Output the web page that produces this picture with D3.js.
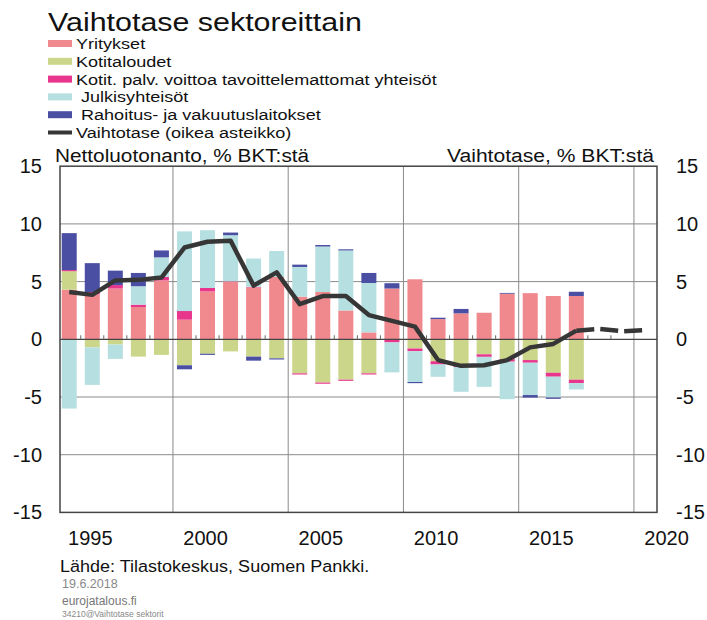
<!DOCTYPE html>
<html><head><meta charset="utf-8">
<script src="https://cdn.jsdelivr.net/npm/d3@7/dist/d3.min.js"></script>
<style>
body{margin:0;background:#fff;}
text{font-family:"Liberation Sans",Arial,sans-serif;}
</style></head>
<body><svg id="c" width="707" height="620"></svg>
<script>
const years = d3.range(1994, 2017);
const seriesNames = ["Yritykset","Kotitaloudet","Kotit. palv. voittoa tavoittelemattomat yhteisöt","Julkisyhteisöt","Rahoitus- ja vakuutuslaitokset"];
const yritykset    = [4.3,3.9,4.4,2.8,5.1,1.7,4.15,4.97,4.5,5.4,3.7,4.1,2.5,0.6,4.4,5.2,1.75,2.25,2.3,3.95,4.0,3.75,3.75];
const kotitaloudet = [1.6,-0.7,-0.45,-1.5,-1.35,-2.25,-1.25,-1.05,-1.5,-1.65,-2.95,-3.75,-3.5,-2.95,0,-0.8,-1.9,-2.3,-1.3,-1.72,-1.8,-2.9,-3.5];
const kotitPalv    = [0.1,0.2,0.3,0.2,0.3,0.75,0.3,0.05,0.05,0,-0.1,-0.1,-0.1,-0.1,-0.27,-0.23,-0.28,-0.1,-0.22,-0.22,-0.23,-0.34,-0.3];
const julkis       = [-6.0,-3.25,-1.25,1.6,1.7,6.9,5.0,4.0,2.45,2.25,2.57,3.94,5.2,4.28,-2.6,-2.67,-1.07,-2.15,-2.6,-3.25,-2.8,-1.8,-0.55];
const rahoitus     = [3.2,2.5,1.25,1.15,0.6,-0.35,-0.1,0.23,-0.35,-0.1,0.2,0.13,0.1,0.87,0.46,-0.1,0.12,0.38,0,0.07,-0.22,-0.12,0.37];
const vaihtotase   = [4.1,3.85,5.1,5.15,5.35,7.95,8.45,8.55,4.65,5.8,3.05,3.75,3.75,2.1,1.6,1.1,-1.8,-2.3,-2.25,-1.8,-0.7,-0.4,0.75];
const ennusteYears = [2016,2017,2018,2019];
const ennuste      = [0.75,0.9,0.7,0.8];
const yTicks = [-15,-10,-5,0,5,10,15];
const xLabels = [1995,2000,2005,2010,2015,2020];
const vGrid = [1998.5,2003.5,2008.5,2013.5,2018.5];
const colors = ["#F0898E","#CCD68A","#E8368D","#B5DFE1","#4A4FA3"];

const svg = d3.select("#c");
const x = d3.scaleLinear().domain([1993.6,2019.5]).range([60,657]);
const y = d3.scaleLinear().domain([-15,15]).range([512.4,166.2]);

const rows = years.map((yr,i)=>({year:yr,s0:yritykset[i],s1:kotitaloudet[i],s2:kotitPalv[i],s3:julkis[i],s4:rahoitus[i]}));
const stack = d3.stack().keys(["s0","s1","s2","s3","s4"]).offset(d3.stackOffsetDiverging);
const layers = stack(rows);

// stretched text helper
function stext(parent, tx, ty, sx, size, str, anchor, fill){
  return parent.append("text").attr("transform",`translate(${tx},${ty}) scale(${sx},1)`)
    .attr("font-size",size).attr("fill",fill||"#111").attr("text-anchor",anchor||"start").text(str);
}

// grid
const g = svg.append("g");
g.selectAll(".hg").data(yTicks.filter(t=>t!==0 && Math.abs(t)!==15)).join("line")
  .attr("x1",x.range()[0]).attr("x2",x.range()[1]).attr("y1",d=>y(d)).attr("y2",d=>y(d))
  .attr("stroke","#8a8a8a").attr("stroke-width",1);
g.selectAll(".vg").data(vGrid).join("line")
  .attr("x1",d=>x(d)).attr("x2",d=>x(d)).attr("y1",y(15)).attr("y2",y(-15))
  .attr("stroke","#8a8a8a").attr("stroke-width",1);

// bars
const bw = 15;
svg.append("g").selectAll("g").data(layers).join("g").attr("fill",(d,i)=>colors[i])
  .selectAll("rect").data(d=>d).join("rect")
  .attr("x",d=>x(d.data.year)-bw/2).attr("width",bw)
  .attr("y",d=>y(Math.max(d[0],d[1]))).attr("height",d=>Math.abs(y(d[0])-y(d[1])));

// zero line and minor ticks
svg.append("line").attr("x1",x.range()[0]).attr("x2",x.range()[1]).attr("y1",y(0)).attr("y2",y(0))
  .attr("stroke","#444").attr("stroke-width",1.2);
const minor = d3.range(1994.5,2019.5,1).filter(v=>!vGrid.includes(v));
svg.append("g").selectAll("line").data(minor).join("line")
  .attr("x1",d=>x(d)).attr("x2",d=>x(d)).attr("y1",y(0)).attr("y2",y(0)-4)
  .attr("stroke","#666").attr("stroke-width",1);

// frame
svg.append("rect").attr("x",x.range()[0]).attr("y",y(15)).attr("width",x.range()[1]-x.range()[0])
  .attr("height",y(-15)-y(15)).attr("fill","none").attr("stroke","#444").attr("stroke-width",1.5);

// line
const line = d3.line().x(d=>x(d[0])).y(d=>y(d[1]));
svg.append("path").datum(years.map((yr,i)=>[yr,vaihtotase[i]])).attr("d",line)
  .attr("fill","none").attr("stroke","#363636").attr("stroke-width",4.5).attr("stroke-linejoin","round");
svg.append("path").datum(ennusteYears.map((yr,i)=>[yr,ennuste[i]])).attr("d",line)
  .attr("fill","none").attr("stroke","#363636").attr("stroke-width",4.5).attr("stroke-dasharray","18,6");

// axes labels
const yl = svg.append("g").attr("font-size",20).attr("fill","#111");
yl.selectAll(".l").data(yTicks).join("text").attr("x",42).attr("y",d=>y(d)+7).attr("text-anchor","end").text(d=>d);
yl.selectAll(".r").data(yTicks).join("text").attr("x",676).attr("y",d=>y(d)+7).attr("text-anchor","start").text(d=>d);
svg.append("g").attr("font-size",20).attr("fill","#111").selectAll("text").data(xLabels).join("text")
  .attr("x",d=>x(d)-2).attr("y",545).attr("text-anchor","middle").text(d=>d);

// headers
stext(svg,55,162,1.094,19,"Nettoluotonanto, % BKT:stä");
stext(svg,654,162,1.11,19,"Vaihtotase, % BKT:stä","end");

// title
stext(svg,48,31,1.17,26,"Vaihtotase sektoreittain");

// legend
const leg = svg.append("g");
const legY = [43.5,61.3,79.1,96.9,114.7];
seriesNames.forEach((n,i)=>{
  leg.append("rect").attr("x",48).attr("y",legY[i]-3.5).attr("width",24).attr("height",7).attr("fill",colors[i]);
  stext(leg,(i===3||i===4)?81:76,legY[i]+5.5,1.165,15.5,n);
});
leg.append("line").attr("x1",48).attr("x2",72).attr("y1",132.5).attr("y2",132.5).attr("stroke","#363636").attr("stroke-width",4);
stext(leg,76,138,1.165,15.5,"Vaihtotase (oikea asteikko)");

// footer
stext(svg,60,572,1.06,17,"Lähde: Tilastokeskus, Suomen Pankki.");
svg.append("text").attr("x",62).attr("y",588).attr("font-size",12.5).attr("fill","#888").text("19.6.2018");
svg.append("text").attr("x",62).attr("y",605).attr("font-size",12).attr("fill","#777").text("eurojatalous.fi");
svg.append("text").attr("x",62).attr("y",617).attr("font-size",8.5).attr("fill","#888").text("34210@Vaihtotase  sektorit");
</script></body></html>
